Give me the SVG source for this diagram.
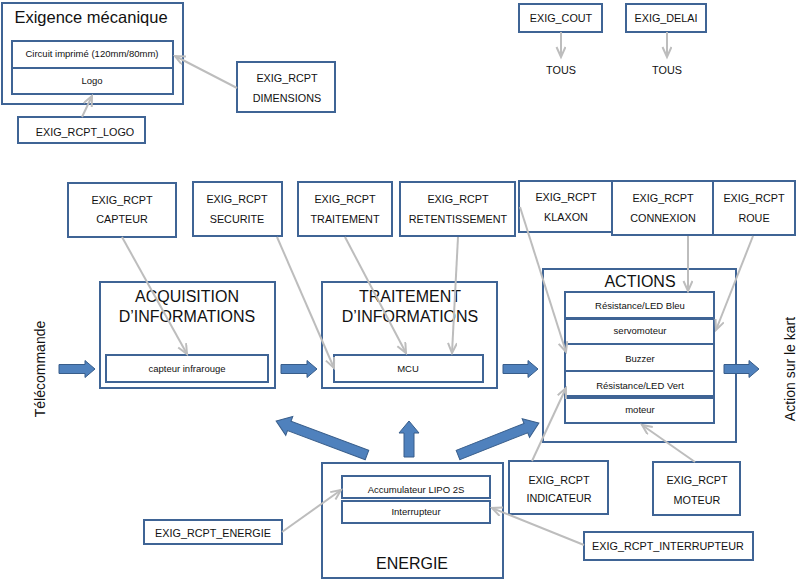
<svg xmlns="http://www.w3.org/2000/svg" width="797" height="583" viewBox="0 0 797 583">
<style>
.box{fill:#fff;stroke:#3f6495;stroke-width:2}
.t{font-family:"Liberation Sans",Arial,sans-serif;fill:#111;text-anchor:middle}
.req{font-size:10.8px}
.small{font-size:9.5px}
.big{font-size:16px}
.side{font-size:14px}
.con{stroke:#bdbdbd;stroke-width:2;fill:none;marker-end:url(#ah)}
.blk{fill:#4f81bd;stroke:#385d8a;stroke-width:1}
</style>
<defs>
<marker id="ah" markerUnits="userSpaceOnUse" markerWidth="14" markerHeight="12" refX="11" refY="5" orient="auto">
<path d="M1,0.5 L11,5 L1,9.5" fill="none" stroke="#bdbdbd" stroke-width="2"/>
</marker>
</defs>
<rect width="797" height="583" fill="#fff"/>

<g id="exigence-mecanique">
<rect class="box" x="2" y="3" width="181" height="101"/>
<text class="t" x="91" y="23" font-size="16.5">Exigence mécanique</text>
<rect class="box" x="12" y="41" width="161" height="27"/>
<text class="t small" x="92" y="57">Circuit imprimé (120mm/80mm)</text>
<rect class="box" x="12" y="68" width="161" height="26"/>
<text class="t small" x="92" y="84">Logo</text>
</g>

<g id="exig-dimensions">
<rect class="box" x="237" y="62" width="98" height="50"/>
<text class="t req" x="287" y="82">EXIG_RCPT</text>
<text class="t req" x="287" y="102">DIMENSIONS</text>
</g>
<g id="exig-logo">
<rect class="box" x="18" y="117" width="127" height="26"/>
<text class="t req" x="85" y="136">EXIG_RCPT_LOGO</text>
</g>
<g id="exig-cout">
<rect class="box" x="519" y="4" width="83" height="28"/>
<text class="t req" x="561" y="22">EXIG_COUT</text>
</g>
<g id="tous-1"><text class="t req" x="561" y="74">TOUS</text></g>
<g id="exig-delai">
<rect class="box" x="626" y="4" width="80" height="28"/>
<text class="t req" x="666" y="22">EXIG_DELAI</text>
</g>
<g id="tous-2"><text class="t req" x="667" y="74">TOUS</text></g>

<g id="exig-capteur">
<rect class="box" x="68" y="183" width="108" height="54"/>
<text class="t req" x="122" y="204">EXIG_RCPT</text>
<text class="t req" x="122" y="223">CAPTEUR</text>
</g>
<g id="exig-securite">
<rect class="box" x="193" y="182" width="89" height="54"/>
<text class="t req" x="237" y="203">EXIG_RCPT</text>
<text class="t req" x="237" y="223">SECURITE</text>
</g>
<g id="exig-traitement">
<rect class="box" x="298" y="182" width="94" height="54"/>
<text class="t req" x="345" y="203">EXIG_RCPT</text>
<text class="t req" x="345" y="223">TRAITEMENT</text>
</g>
<g id="exig-retentissement">
<rect class="box" x="400" y="182" width="115" height="54"/>
<text class="t req" x="458" y="203">EXIG_RCPT</text>
<text class="t req" x="458" y="223">RETENTISSEMENT</text>
</g>
<g id="exig-klaxon">
<rect class="box" x="519" y="181" width="93" height="51"/>
<text class="t req" x="566" y="201">EXIG_RCPT</text>
<text class="t req" x="566" y="221">KLAXON</text>
</g>
<g id="exig-connexion">
<rect class="box" x="612" y="181" width="101" height="54"/>
<text class="t req" x="663" y="202">EXIG_RCPT</text>
<text class="t req" x="663" y="222">CONNEXION</text>
</g>
<g id="exig-roue">
<rect class="box" x="713" y="181" width="82" height="54"/>
<text class="t req" x="754" y="202">EXIG_RCPT</text>
<text class="t req" x="754" y="222">ROUE</text>
</g>

<g id="acquisition">
<rect class="box" x="100" y="282" width="175" height="106"/>
<text class="t big" x="187" y="302">ACQUISITION</text>
<text class="t big" x="187" y="322">D’INFORMATIONS</text>
<rect class="box" x="106" y="355" width="162" height="27"/>
<text class="t small" x="187" y="372">capteur infrarouge</text>
</g>

<g id="traitement">
<rect class="box" x="322" y="282" width="175" height="106"/>
<text class="t big" x="410" y="302">TRAITEMENT</text>
<text class="t big" x="410" y="322">D’INFORMATIONS</text>
<rect class="box" x="334" y="355" width="149" height="27"/>
<text class="t small" x="408" y="372">MCU</text>
</g>

<g id="actions">
<rect class="box" x="543" y="269" width="193" height="173"/>
<text class="t big" x="640" y="287">ACTIONS</text>
<rect class="box" x="565" y="292" width="149" height="26"/>
<text class="t small" x="640" y="309">Résistance/LED Bleu</text>
<rect class="box" x="565" y="319" width="149" height="25"/>
<text class="t small" x="640" y="334">servomoteur</text>
<rect class="box" x="565" y="344" width="149" height="27"/>
<text class="t small" x="640" y="362">Buzzer</text>
<rect class="box" x="565" y="371" width="149" height="25"/>
<text class="t small" x="640" y="389">Résistance/LED Vert</text>
<rect class="box" x="565" y="398" width="149" height="25"/>
<text class="t small" x="640" y="413">moteur</text>
</g>

<g id="energie">
<rect class="box" x="322" y="463" width="181" height="115"/>
<rect class="box" x="342" y="476" width="148" height="22"/>
<text class="t small" x="416" y="493">Accumulateur LIPO 2S</text>
<rect class="box" x="342" y="501" width="148" height="22"/>
<text class="t small" x="416" y="515">Interrupteur</text>
<text class="t big" x="412" y="569">ENERGIE</text>
</g>

<g id="exig-indicateur">
<rect class="box" x="509" y="461" width="99" height="53"/>
<text class="t req" x="559" y="484">EXIG_RCPT</text>
<text class="t req" x="559" y="502">INDICATEUR</text>
</g>
<g id="exig-moteur">
<rect class="box" x="653" y="462" width="87" height="53"/>
<text class="t req" x="697" y="484">EXIG_RCPT</text>
<text class="t req" x="697" y="504">MOTEUR</text>
</g>
<g id="exig-energie">
<rect class="box" x="144" y="520" width="138" height="24"/>
<text class="t req" x="213" y="537">EXIG_RCPT_ENERGIE</text>
</g>
<g id="exig-interrupteur">
<rect class="box" x="584" y="532" width="169" height="28"/>
<text class="t req" x="668" y="550">EXIG_RCPT_INTERRUPTEUR</text>
</g>

<g id="telecommande"><text class="t side" transform="translate(45,369) rotate(-90)">Télécommande</text></g>
<g id="action-kart"><text class="t side" transform="translate(795,369) rotate(-90)">Action sur le kart</text></g>

<g id="connectors">
<line class="con" x1="237" y1="88" x2="175" y2="56"/>
<line class="con" x1="82" y1="117" x2="92" y2="96"/>
<line class="con" x1="561" y1="32" x2="561" y2="57"/>
<line class="con" x1="667" y1="32" x2="667" y2="57"/>
<line class="con" x1="122" y1="237" x2="187" y2="354"/>
<line class="con" x1="277" y1="237" x2="334" y2="368"/>
<line class="con" x1="345" y1="237" x2="406" y2="353"/>
<line class="con" x1="458" y1="237" x2="452" y2="353"/>
<line class="con" x1="520" y1="207" x2="566" y2="352"/>
<line class="con" x1="688" y1="236" x2="688" y2="291"/>
<line class="con" x1="753" y1="236" x2="716" y2="330"/>
<line class="con" x1="532" y1="461" x2="566" y2="388"/>
<line class="con" x1="695" y1="462" x2="642" y2="425"/>
<line class="con" x1="282" y1="532" x2="341" y2="490"/>
<line class="con" x1="584" y1="545" x2="492" y2="508"/>
<path class="blk" d="M59,364.5 H85 V360.5 L95,369 L85,377.5 V373.5 H59 Z"/>
<path class="blk" d="M281,364.5 H307 V360.5 L317,369 L307,377.5 V373.5 H281 Z"/>
<path class="blk" d="M503,364.5 H528 V360.5 L538,369 L528,377.5 V373.5 H503 Z"/>
<path class="blk" d="M724,364.5 H749 V360.5 L759,369 L749,377.5 V373.5 H724 Z"/>
<path class="blk" transform="translate(367,455) rotate(200.5)" d="M0,-5 H83 V-10 L97,0 L83,10 V5 H0 Z"/>
<path class="blk" transform="translate(409,457) rotate(-90)" d="M0,-5 H24 V-10 L36,0 L24,10 V5 H0 Z"/>
<path class="blk" transform="translate(458,455) rotate(-21.6)" d="M0,-5 H73 V-10 L87,0 L73,10 V5 H0 Z"/>
</g>
</svg>
